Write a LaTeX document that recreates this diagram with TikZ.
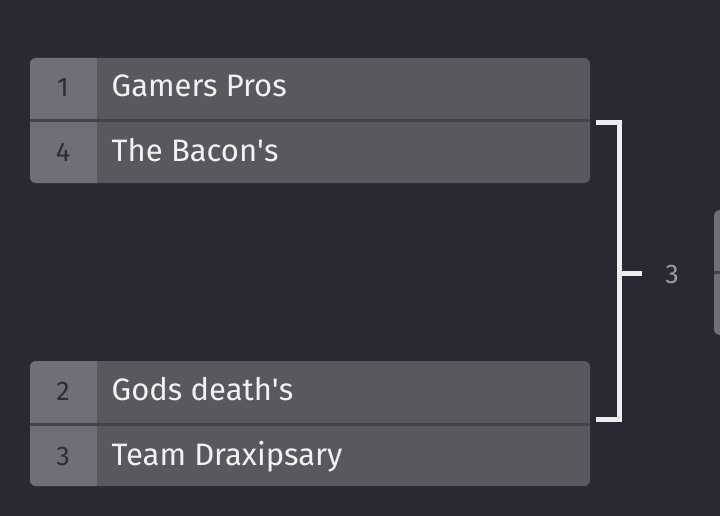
\documentclass[tikz,border=0pt]{standalone}
\usepackage{fontspec}
\setmainfont{Fira Sans}
\definecolor{bg}{HTML}{272A33}
\definecolor{seedbg}{HTML}{6F7077}
\definecolor{namebg}{HTML}{58595F}
\definecolor{divider}{HTML}{434449}
\definecolor{seedtxt}{HTML}{2C2E35}
\definecolor{lbl}{HTML}{9A9CA0}
\definecolor{brk}{HTML}{EDEDEE}
\begin{document}
\begin{tikzpicture}[x=1pt,y=-1pt,
  seedtext/.style={text=seedtxt,font=\fontsize{27}{27}\selectfont,anchor=base,inner sep=0pt},
  nametext/.style={text=white!95!black,font=\fontsize{31}{31}\selectfont,anchor=base west,inner sep=0pt},
  bracket/.style={draw=brk,line width=5pt},
]
\fill[bg] (0,0) rectangle (720,516);
\useasboundingbox (0,0) rectangle (720,516);
% match 1
\fill[namebg,rounded corners=6pt] (30,58) rectangle (590,183);
\fill[seedbg,rounded corners=6pt] (30,58) rectangle (104,183);
\fill[namebg] (97,58) rectangle (110,183);
\fill[divider] (30,119.5) rectangle (590,122.5);
% match 2
\fill[namebg,rounded corners=6pt] (30,361) rectangle (590,486);
\fill[seedbg,rounded corners=6pt] (30,361) rectangle (104,486);
\fill[namebg] (97,361) rectangle (110,486);
\fill[divider] (30,422.5) rectangle (590,425.5);
% right partial box
\fill[seedbg,rounded corners=6pt] (714,210) rectangle (740,335);
\fill[divider] (714,270.5) rectangle (720,273.5);
% texts
\node[seedtext] (s1) at (63,97) {1};
\node[nametext] (n1) at (111.5,97) {Gamers Pros};
\node[seedtext] (s4) at (63,161.5) {4};
\node[nametext] (n4) at (111.5,161.5) {The Bacon\textquotesingle s};
\node[seedtext] (s2) at (63,400.5) {2};
\node[nametext] (n2) at (111.5,400.5) {Gods death\textquotesingle s};
\node[seedtext] (s3) at (63,465) {3};
\node[nametext] (n3) at (111.5,465) {Team Draxipsary};
% bracket
\coordinate (bt) at (596,122.5);
\coordinate (bb) at (596,419.5);
\coordinate (bm) at (642,273.5);
\draw[bracket] (bt) -- (619,122.5) -- (619,419.5) -- (bb);
\draw[bracket] (619,273.5) -- (bm);
\node[text=lbl,font=\fontsize{27}{27}\selectfont,anchor=base,inner sep=0pt] (r3) at (672,283) {3};
\end{tikzpicture}
\end{document}
